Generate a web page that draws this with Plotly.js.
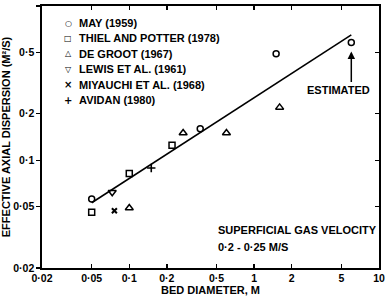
<!DOCTYPE html>
<html>
<head>
<meta charset="utf-8">
<script src="https://cdn.plot.ly/plotly-3.0.1.min.js"></script>
<style>html,body{margin:0;padding:0;background:#fff;}#chart{width:389px;height:297px;}</style>
</head>
<body>
<div id="chart"></div>
<script>
// ---- data ----
const seriesNames = ["MAY (1959)", "THIEL AND POTTER (1978)", "DE GROOT (1967)", "LEWIS ET AL. (1961)", "MIYAUCHI ET AL. (1968)", "AVIDAN (1980)"];
const legendGlyphs = ["\u25CB", "\u25A1", "\u25B3", "\u25BD", "\u00D7", "+"];

const mayX = [0.05, 0.37, 1.5, 6];
const mayY = [0.056, 0.16, 0.49, 0.58];
const thielX = [0.05, 0.1, 0.22];
const thielY = [0.046, 0.082, 0.125];
const grootX = [0.1, 0.27, 0.6, 1.6];
const grootY = [0.049, 0.15, 0.15, 0.22];
const lewisX = [0.073];
const lewisY = [0.062];
const miyX = [0.076];
const miyY = [0.047];
const avidanX = [0.15];
const avidanY = [0.089];

const fitX = [0.05, 6];
const fitY = [0.053, 0.65];

const xTickVals = [0.02, 0.05, 0.1, 0.2, 0.5, 1, 2, 5, 10];
const xTickText = ["0\u00B702", "0\u00B705", "0\u00B71", "0\u00B72", "0\u00B75", "1", "2", "5", "10"];
const yTickVals = [0.02, 0.05, 0.1, 0.2, 0.5, 1];
const yTickText = ["0\u00B702", "0\u00B705", "0\u00B71", "0\u00B72", "0\u00B75", "1"];

// ---- styling ----
const FONT = "Liberation Sans, Arial, sans-serif";
const black = "#000";
const b = function (s) { return "<b>" + s + "</b>"; };

function mk(x, y, name, symbol, size, lw) {
  return {
    x: x, y: y, name: name, type: "scatter", mode: "markers",
    marker: {symbol: symbol, size: size, color: black, line: {color: black, width: lw}},
    showlegend: false, hoverinfo: "x+y+name"
  };
}

const traces = [
  {x: fitX, y: fitY, type: "scatter", mode: "lines", line: {color: black, width: 1.6}, showlegend: false, name: "fit"},
  mk(mayX, mayY, seriesNames[0], "circle-open", 6, 1.5),
  mk(thielX, thielY, seriesNames[1], "square-open", 6, 1.5),
  mk(grootX, grootY, seriesNames[2], "triangle-up-open", 7, 1.5),
  mk(lewisX, lewisY, seriesNames[3], "triangle-down-open", 7, 1.5),
  mk(miyX, miyY, seriesNames[4], "x-thin", 5, 2),
  mk(avidanX, avidanY, seriesNames[5], "cross-thin", 6, 1.6),
  {x: [], y: [], yaxis: "y2", type: "scatter", mode: "markers", showlegend: false, hoverinfo: "skip"}
];

// legend built as text annotations
const plotL = 42, plotR = 379, plotT = 6, plotB = 268;
const legendTop = 23, legendStep = 15.4, glyphX = 68, textX = 77;
const annotations = [];
seriesNames.forEach(function (nm, i) {
  const py = (plotB - (legendTop + i * legendStep)) / (plotB - plotT);
  annotations.push({xref: "paper", yref: "paper", x: (glyphX - plotL) / (plotR - plotL), y: py,
    text: b(legendGlyphs[i]), showarrow: false, xanchor: "center", yanchor: "middle",
    font: {family: "DejaVu Sans", size: (i === 4 || i === 5) ? 10 : 8, color: black}});
  annotations.push({xref: "paper", yref: "paper", x: (textX - plotL) / (plotR - plotL), y: py,
    text: b(nm), showarrow: false, xanchor: "left", yanchor: "middle",
    font: {family: FONT, size: 11, color: black}});
});

// arrow to estimated point
annotations.push({x: Math.log10(mayX[3]), y: Math.log10(mayY[3]), xref: "x", yref: "y",
  text: "", showarrow: true, arrowhead: 2, arrowsize: 1, arrowwidth: 1.5, arrowcolor: black,
  ax: 0, ay: 41, standoff: 9});
annotations.push({xref: "paper", yref: "paper", x: (338 - plotL) / (plotR - plotL), y: (plotB - 90) / (plotB - plotT),
  text: b("ESTIMATED"), showarrow: false, xanchor: "center", yanchor: "middle",
  font: {family: FONT, size: 11, color: black}});
annotations.push({xref: "paper", yref: "paper", x: (216 - plotL) / (plotR - plotL), y: (plotB - 230) / (plotB - plotT),
  text: b("SUPERFICIAL GAS VELOCITY"), showarrow: false, xanchor: "left", yanchor: "middle",
  font: {family: FONT, size: 11, color: black}});
annotations.push({xref: "paper", yref: "paper", x: (216 - plotL) / (plotR - plotL), y: (plotB - 247) / (plotB - plotT),
  text: b("0\u00B72 - 0\u00B725 M/S"), showarrow: false, xanchor: "left", yanchor: "middle",
  font: {family: FONT, size: 11, color: black}});

const layout = {
  width: 389, height: 297,
  margin: {l: plotL, r: 389 - plotR, t: plotT, b: 297 - plotB},
  paper_bgcolor: "#fff", plot_bgcolor: "#fff",
  font: {family: FONT, size: 10, color: black},
  showlegend: false,
  xaxis: {
    type: "log", range: [Math.log10(0.02), Math.log10(10)],
    tickvals: xTickVals, ticktext: xTickText.map(b),
    ticks: "inside", ticklen: 4, tickwidth: 1.3, tickcolor: black,
    showline: true, linecolor: black, linewidth: 1.6, mirror: "ticks",
    showgrid: false, zeroline: false,
    tickfont: {family: FONT, size: 10.5, color: black},
    title: {text: b("BED DIAMETER, M"), font: {family: FONT, size: 11, color: black}, standoff: 2}
  },
  yaxis: {
    type: "log", range: [Math.log10(0.02), Math.log10(1)],
    tickvals: yTickVals, ticktext: yTickText.map(b),
    ticks: "outside", ticklen: 4, tickwidth: 1.3, tickcolor: black,
    showline: true, linecolor: black, linewidth: 1.6, mirror: true,
    showgrid: false, zeroline: false,
    tickfont: {family: FONT, size: 10.5, color: black},
    title: {text: b("EFFECTIVE AXIAL DISPERSION (M\u00B2/S)"), font: {family: FONT, size: 11, color: black}, standoff: 4}
  },
  yaxis2: {
    type: "log", range: [Math.log10(0.02), Math.log10(1)], overlaying: "y", side: "right",
    tickvals: yTickVals, showticklabels: false,
    ticks: "inside", ticklen: 4, tickwidth: 1.3, tickcolor: black,
    showline: false, showgrid: false, zeroline: false
  },
  annotations: annotations
};

Plotly.newPlot("chart", traces, layout, {displayModeBar: false, staticPlot: true});
</script>
</body>
</html>
